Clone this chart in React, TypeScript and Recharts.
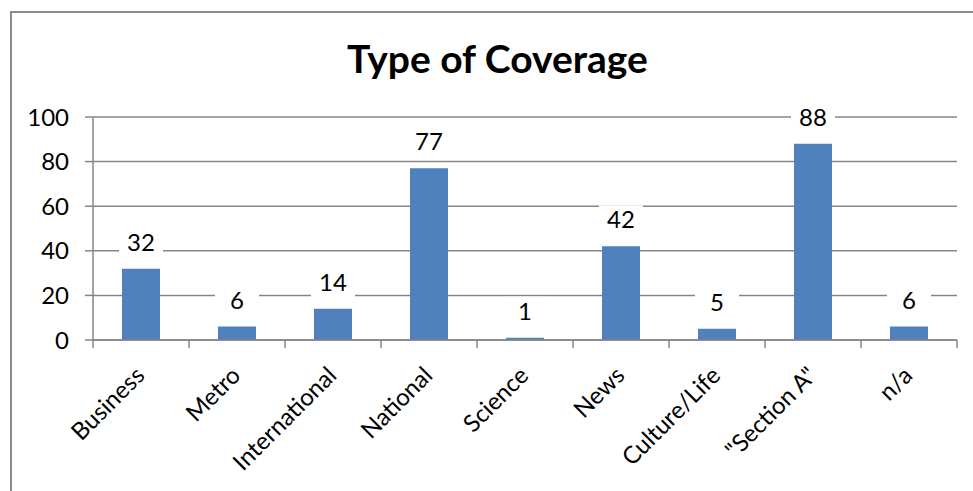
import { BarChart, Bar, XAxis, YAxis, CartesianGrid, LabelList } from 'recharts';

const categories = ['Business', 'Metro', 'International', 'National', 'Science', 'News', 'Culture/Life', '"Section A"', 'n/a'];
const counts = [32, 6, 14, 77, 1, 42, 5, 88, 6];
const yTicks = [0, 20, 40, 60, 80, 100];

const data = categories.map((name, i) => ({ name, count: counts[i] }));

const W = 973;
const H = 491;
const AXIS_W = 93;
const RIGHT = 16;
const TOP = 117;
const X_AXIS_H = 151;
const BAND = (W - AXIS_W - RIGHT) / categories.length;

const LINE = '#868686';
const FONT = 'Lato, "Open Sans", sans-serif';

// category label rotated 45deg, plus tick marks on the band edges
const CategoryTick = ({ x, y, payload, index }: any) => (
    <g>
        <line x1={x - BAND / 2} x2={x - BAND / 2} y1={y} y2={y + 8} stroke={LINE} strokeWidth={1.5} />
        {index === categories.length - 1 && (
            <line x1={x + BAND / 2} x2={x + BAND / 2} y1={y} y2={y + 8} stroke={LINE} strokeWidth={1.5} />
        )}
        <text
            transform={`translate(${x + 5},${y + 37}) rotate(-45)`}
            textAnchor="end"
            fontSize={24}
            fontFamily={FONT}
            fill="#000"
        >
            {payload.value}
        </text>
    </g>
);

// value above each bar on a white box that breaks the gridlines
const ValueLabel = ({ x, y, width, value }: any) => {
    const cx = x + width / 2;
    return (
        <g>
            <rect x={cx - 22} y={y - 41} width={44} height={30} fill="#fff" />
            <text x={cx} y={y - 18} textAnchor="middle" fontSize={24} fontFamily={FONT} fill="#000">
                {value}
            </text>
        </g>
    );
};

export default function App() {
    return (
        <div style={{ position: 'absolute', left: 0, top: 0, width: W, height: H, background: '#fff', overflow: 'hidden' }}>
            <div
                style={{
                    position: 'absolute',
                    left: 10,
                    top: 11,
                    width: 980,
                    height: 500,
                    border: '2px solid #8c8c8c',
                    boxSizing: 'border-box',
                }}
            />
            <div
                style={{
                    position: 'absolute',
                    left: 0,
                    width: 995,
                    top: 36,
                    textAlign: 'center',
                    fontFamily: FONT,
                    fontWeight: 700,
                    fontSize: 39,
                    lineHeight: '44px',
                    color: '#000',
                }}
            >
                Type of Coverage
            </div>
            <div style={{ position: 'absolute', left: 0, top: 0 }}>
                <BarChart width={W} height={H} data={data} margin={{ top: TOP, right: RIGHT, bottom: 0, left: 0 }}>
                    <CartesianGrid vertical={false} stroke={LINE} strokeWidth={1.5} />
                    <YAxis
                        width={AXIS_W}
                        domain={[0, 100]}
                        ticks={yTicks}
                        interval={0}
                        axisLine={{ stroke: LINE, strokeWidth: 1.5 }}
                        tickLine={{ stroke: LINE, strokeWidth: 1.5 }}
                        tickSize={8}
                        tickMargin={16}
                        tick={{ fontSize: 24, fontFamily: FONT, fill: '#000' }}
                    />
                    <XAxis
                        dataKey="name"
                        height={X_AXIS_H}
                        interval={0}
                        axisLine={{ stroke: LINE, strokeWidth: 1.5 }}
                        tickLine={false}
                        tickSize={0}
                        tickMargin={0}
                        tick={<CategoryTick />}
                    />
                    <Bar dataKey="count" fill="#4F81BD" barSize={38} isAnimationActive={false}>
                        <LabelList dataKey="count" content={<ValueLabel />} />
                    </Bar>
                </BarChart>
            </div>
        </div>
    );
}
